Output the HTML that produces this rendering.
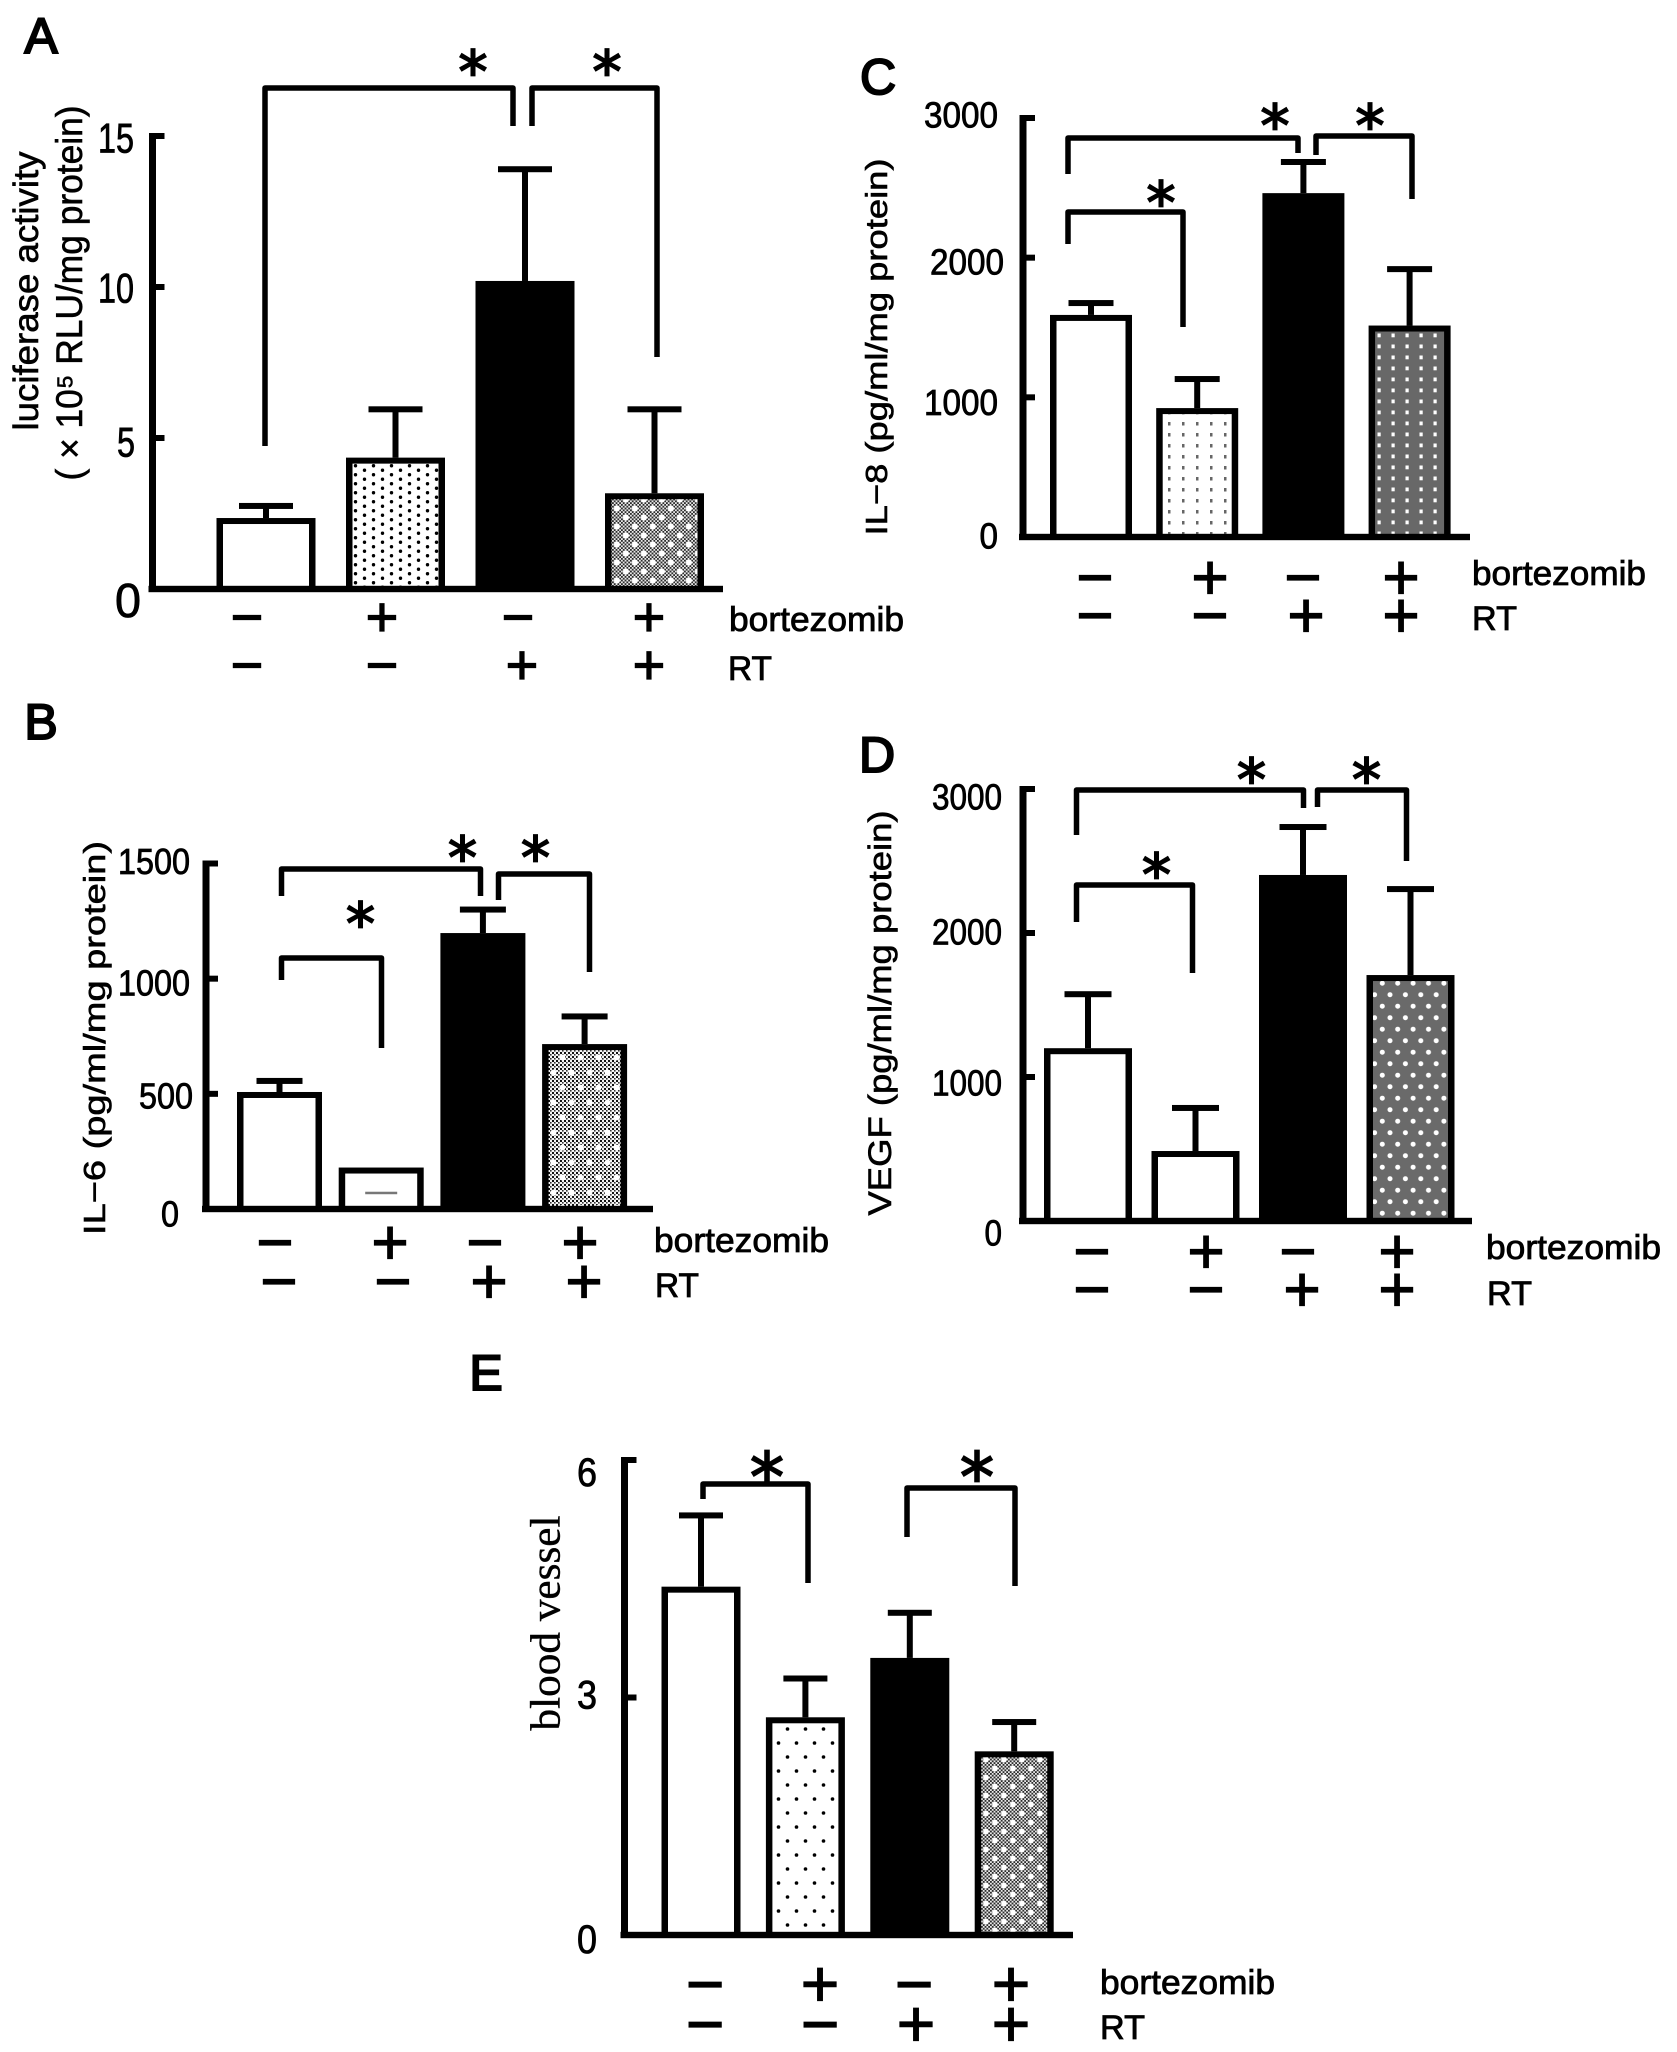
<!DOCTYPE html>
<html lang="en">
<head>
<meta charset="utf-8">
<title>Bortezomib and RT bar charts</title>
<style>
html,body{margin:0;padding:0;background:#fff;}
svg{display:block;}
text{font-family:"Liberation Sans",sans-serif;fill:#000;}
.letter{font-size:50px;stroke:#000;stroke-width:2px;text-anchor:middle;}
.title{font-size:31px;stroke:#000;stroke-width:.6px;text-anchor:middle;}
.rowlabel{font-size:34px;stroke:#000;stroke-width:.8px;}
.star{font-family:"DejaVu Sans",sans-serif;font-size:58px;stroke:#000;stroke-width:1.8px;text-anchor:middle;}
.bracket{fill:none;stroke:#000;stroke-width:5.5;stroke-linejoin:round;}
</style>
</head>
<body>
<svg id="figure" xmlns="http://www.w3.org/2000/svg" width="1677" height="2052" viewBox="0 0 1677 2052">
<defs>
<pattern id="dotsA" width="18" height="9" patternUnits="userSpaceOnUse"><circle cx="4.5" cy="2.25" r="1.7" fill="#000"/><circle cx="13.5" cy="6.75" r="1.7" fill="#000"/></pattern>
<pattern id="dotsC" width="14" height="11" patternUnits="userSpaceOnUse"><rect x="6" y="4" width="2.5" height="3.5" fill="#666"/></pattern>
<pattern id="dotsE" width="18" height="28" patternUnits="userSpaceOnUse"><circle cx="4.5" cy="7" r="1.8" fill="#000"/><circle cx="13.5" cy="21" r="1.8" fill="#000"/></pattern>
<pattern id="chk" width="3.6" height="3.6" patternUnits="userSpaceOnUse"><rect width="3.6" height="3.6" fill="#2c2c2c"/><rect width="1.8" height="1.8" fill="#e8e8e8"/><rect x="1.8" y="1.8" width="1.8" height="1.8" fill="#e8e8e8"/></pattern>
<pattern id="chkLight" width="4" height="4" patternUnits="userSpaceOnUse"><rect width="4" height="4" fill="#f4f4f4"/><rect width="2" height="2" fill="#111"/><rect x="2" y="2" width="1.6" height="1.6" fill="#333"/></pattern>
<pattern id="spotsA" width="18" height="18" patternUnits="userSpaceOnUse"><circle cx="5" cy="4.5" r="3" fill="#fff"/><circle cx="14" cy="13.5" r="3" fill="#fff"/></pattern>
<pattern id="spotsB" width="18" height="30" patternUnits="userSpaceOnUse"><circle cx="4.5" cy="7.5" r="3" fill="#fff"/><circle cx="13.5" cy="22.5" r="3" fill="#fff"/></pattern>
<pattern id="spotsC" width="14" height="11" patternUnits="userSpaceOnUse"><rect x="5.5" y="3.5" width="3.2" height="3.8" fill="#fff"/></pattern>
<pattern id="spotsD" width="15.4" height="23" patternUnits="userSpaceOnUse"><circle cx="4" cy="5.7" r="2.5" fill="#fff"/><circle cx="11.7" cy="17.2" r="2.5" fill="#fff"/></pattern>
<pattern id="spotsE" width="18" height="18" patternUnits="userSpaceOnUse"><circle cx="5" cy="4.5" r="2.8" fill="#fff"/><circle cx="14" cy="13.5" r="2.8" fill="#fff"/></pattern>
</defs>

<!-- Panel letters -->
<text class="letter" x="41" y="53">A</text>
<text class="letter" x="41" y="739">B</text>
<text class="letter" x="878" y="94">C</text>
<text class="letter" x="877" y="772">D</text>
<text class="letter" x="486" y="1390">E</text>

<!-- Axis titles -->
<text class="title" style="font-size:35px" transform="translate(38 291) rotate(-90)" textLength="279" lengthAdjust="spacingAndGlyphs">luciferase activity</text>
<text class="title" style="font-size:37px" transform="translate(82 293) rotate(-90)" textLength="375" lengthAdjust="spacingAndGlyphs">( × 10⁵ RLU/mg protein)</text>
<text class="title" transform="translate(94 1038) rotate(-90)" dy=".35em" textLength="394" lengthAdjust="spacingAndGlyphs">IL−6  (pg/ml/mg protein)</text>
<text class="title" transform="translate(876 347) rotate(-90)" dy=".35em" textLength="377" lengthAdjust="spacingAndGlyphs">IL−8 (pg/ml/mg protein)</text>
<text class="title" style="font-size:32px" transform="translate(880 1013) rotate(-90)" dy=".35em" textLength="405" lengthAdjust="spacingAndGlyphs">VEGF (pg/ml/mg protein)</text>
<text class="title" style="font-family:'Liberation Serif',serif;font-size:42px;stroke-width:.4px" transform="translate(545 1623) rotate(-90)" dy=".35em" textLength="215" lengthAdjust="spacingAndGlyphs">blood vessel</text>

<!-- Significance brackets -->
<g transform="translate(-3 0)">
<polyline class="bracket" points="268,446 268,88 516,88 516,126"/>
<polyline class="bracket" points="535,126 535,88 660,88 660,357"/>
<text class="star" x="476" y="92">*</text>
<text class="star" x="610" y="92">*</text>
</g>
<g transform="translate(-1.5 0)">
<polyline class="bracket" points="283,896 283,869 482,869 482,896"/>
<polyline class="bracket" points="500,900 500,874 591,874 591,972"/>
<polyline class="bracket" points="283,980 283,958 383,958 383,1048"/>
<text class="star" x="464" y="878">*</text>
<text class="star" x="537" y="878">*</text>
<text class="star" x="362" y="944">*</text>
</g>
<g transform="translate(-2 0)">
<polyline class="bracket" points="1070,174 1070,138 1300,138 1300,153"/>
<polyline class="bracket" points="1318,155 1318,136 1414,136 1414,199"/>
<polyline class="bracket" points="1070,244 1070,212 1185,212 1185,327"/>
<text class="star" x="1277" y="146">*</text>
<text class="star" x="1372" y="146">*</text>
<text class="star" x="1163" y="223">*</text>
</g>
<g transform="translate(-1.5 0)">
<polyline class="bracket" points="1078,835 1078,790 1305,790 1305,808"/>
<polyline class="bracket" points="1319,807 1319,790 1408,790 1408,861"/>
<polyline class="bracket" points="1078,922 1078,885 1194,885 1194,973"/>
<text class="star" x="1253" y="800">*</text>
<text class="star" x="1368" y="800">*</text>
<text class="star" x="1158" y="895">*</text>
</g>
<g transform="translate(-1 0)">
<polyline class="bracket" points="704,1499 704,1484 809,1484 809,1583"/>
<polyline class="bracket" points="908,1537 908,1488 1016,1488 1016,1586"/>
<text class="star" style="font-size:68px" x="768" y="1501">*</text>
<text class="star" style="font-size:68px" x="978" y="1501">*</text>
</g>

<!-- Treatment row labels -->
<text class="rowlabel" x="729" y="631" textLength="175" lengthAdjust="spacingAndGlyphs">bortezomib</text>
<text class="rowlabel" x="728" y="680" textLength="44" lengthAdjust="spacingAndGlyphs">RT</text>
<text class="rowlabel" x="654" y="1252" textLength="175" lengthAdjust="spacingAndGlyphs">bortezomib</text>
<text class="rowlabel" x="655" y="1297" textLength="44" lengthAdjust="spacingAndGlyphs">RT</text>
<text class="rowlabel" x="1472" y="585" textLength="174" lengthAdjust="spacingAndGlyphs">bortezomib</text>
<text class="rowlabel" x="1472" y="630" textLength="45" lengthAdjust="spacingAndGlyphs">RT</text>
<text class="rowlabel" x="1486" y="1259" textLength="175" lengthAdjust="spacingAndGlyphs">bortezomib</text>
<text class="rowlabel" x="1487" y="1305" textLength="45" lengthAdjust="spacingAndGlyphs">RT</text>
<text class="rowlabel" x="1100" y="1994" textLength="175" lengthAdjust="spacingAndGlyphs">bortezomib</text>
<text class="rowlabel" x="1100" y="2039" textLength="45" lengthAdjust="spacingAndGlyphs">RT</text>
</svg>

<script>
// Shared categories
const groups = ['control', 'bortezomib', 'rt', 'combination'];
const bortezomibSigns = ['−', '+', '−', '+'];
const rtSigns = ['−', '−', '+', '+'];

// Panel A: luciferase activity
const aValues = [2.35, 4.35, 10.2, 3.17];
const aErrorTops = [2.75, 5.95, 13.9, 5.95];
const aTicks = [0, 5, 10, 15];

// Panel B: IL-6
const bValues = [508, 180, 1198, 716];
const bErrorTops = [556, 180, 1300, 836];
const bTicks = [0, 500, 1000, 1500];

// Panel C: IL-8
const cValues = [1590, 923, 2462, 1514];
const cErrorTops = [1675, 1131, 2685, 1918];
const cTicks = [0, 1000, 2000, 3000];

// Panel D: VEGF
const dValues = [1200, 486, 2403, 1708];
const dErrorTops = [1575, 785, 2736, 2305];
const dTicks = [0, 1000, 2000, 3000];

// Panel E: blood vessel
const eValues = [4.4, 2.75, 3.5, 2.32];
const eErrorTops = [5.3, 3.24, 4.07, 2.69];
const eTicks = [0, 3, 6];

const NS = 'http://www.w3.org/2000/svg';
const root = document.getElementById('figure');

function make(tag, parent) {
  const el = document.createElementNS(NS, tag);
  parent.appendChild(el);
  return el;
}
function box(el, x, y, w, h, fill) {
  el.setAttribute('x', x);
  el.setAttribute('y', y);
  el.setAttribute('width', w);
  el.setAttribute('height', h);
  el.setAttribute('fill', fill);
}

function drawPanel(values, errorTops, ticks, p) {
  const yScale = v => p.base - (v - ticks[0]) / (ticks[ticks.length - 1] - ticks[0]) * (p.base - p.top);
  const xScale = i => p.x0 + i * p.step;

  const g = make('g', root);
  
  

  values.forEach((v, i) => {
    const cx = xScale(i);
    const y = yScale(v);
    const eTop = yScale(errorTops[i]);
    if (errorTops[i] > v) {
      const stem = make('rect', g);
      
      
      box(stem, cx - 3, eTop, 6, y - eTop, '#000');
      const cap = make('rect', g);
      
      
      box(cap, cx - p.capW / 2, eTop - 3, p.capW, 6, '#000');
    }
    const outer = make('rect', g);
    
    
    outer.setAttribute('data-group', groups[i]);
    box(outer, cx - p.barW / 2, y, p.barW, p.base - y, '#000');
    if (i !== 2) {
      const inner = make('rect', g);
      
      
      const ih = Math.max(0, p.base - y - 6);
      box(inner, cx - p.barW / 2 + 6.5, y + 6, p.barW - 13, ih, p.fills[i]);
      if (p.overlays[i]) {
        const over = make('rect', g);
        
        
        box(over, cx - p.barW / 2 + 6.5, y + 6, p.barW - 13, ih, p.overlays[i]);
      }
    }
  });

  // axes
  const yAxis = make('rect', g);
  
  
  box(yAxis, p.axisX - 3.5, p.top - 3, 7, p.base - p.top + 6, '#000');
  const xAxis = make('rect', g);
  
  
  box(xAxis, p.axisX - 4, p.base - 3.2, p.axisRight - p.axisX + 4, 6.4, '#000');

  ticks.forEach((t, i) => {
    const y = yScale(t);
    const mark = make('rect', g);
    
    
    box(mark, p.axisX, y - 3, 12, 6, '#000');
    const label = make('text', g);
    
    
    const s = String(t);
    const isBigZero = t === 0 && p.zeroSize;
    const size = isBigZero ? p.zeroSize : p.digitSize;
    const width = isBigZero ? p.zeroW : s.length * p.digitW;
    label.textContent = s;
    label.setAttribute('x', p.labelRight + p.labelDx[i]);
    label.setAttribute('y', y + p.labelNudge[i] + size * 0.35);
    label.setAttribute('text-anchor', 'end');
    label.setAttribute('font-size', size);
    label.setAttribute('stroke', '#000');
    label.setAttribute('stroke-width', '0.8');
    label.setAttribute('textLength', width);
    label.setAttribute('lengthAdjust', 'spacingAndGlyphs');
  });

  [[bortezomibSigns, p.row1Y, p.row1X], [rtSigns, p.row2Y, p.row2X]].forEach(row => {
    row[0].forEach((sign, i) => {
      const t = make('text', g);
      
      
      t.textContent = sign;
      t.setAttribute('x', row[2][i]);
      t.setAttribute('y', row[1] + p.signSize * 0.34);
      t.setAttribute('text-anchor', 'middle');
      t.setAttribute('font-size', p.signSize);
      t.setAttribute('stroke', '#000');
      t.setAttribute('stroke-width', '1.2');
    });
  });

  return { xScale, yScale, g };
}

drawPanel(aValues, aErrorTops, aTicks, {
  base: 589, top: 136, axisX: 152.5, axisRight: 723, x0: 266, step: 129.5, barW: 99, capW: 54,
  fills: ['#fff', '#fff', '#000', 'url(#chk)'],
  overlays: [null, 'url(#dotsA)', null, 'url(#spotsA)'],
  labelRight: 134, labelDx: [7, 1, 0, 0], labelNudge: [11, 4, 1, 2], digitSize: 42, digitW: 18, zeroSize: 48, zeroW: 26,
  signSize: 56, row1Y: 617, row1X: [247, 382, 518, 649], row2Y: 665, row2X: [247, 382, 522, 649]
});

const panelB = drawPanel(bValues, bErrorTops, bTicks, {
  base: 1209, top: 863.5, axisX: 206, axisRight: 653, x0: 279.5, step: 101.7, barW: 85, capW: 46,
  fills: ['#fff', '#fff', '#000', 'url(#chkLight)'],
  overlays: [null, null, null, 'url(#spotsB)'],
  labelRight: 190, labelDx: [-11, 3, 0, 0], labelNudge: [5, 2, 4, -2], digitSize: 36, digitW: 18,
  signSize: 64, row1Y: 1242, row1X: [275, 390, 485, 580], row2Y: 1281, row2X: [279, 393, 489, 584]
});
const dash = make('rect', panelB.g);


box(dash, panelB.xScale(1) - 16, panelB.yScale(75), 32, 2.5, '#777');

drawPanel(cValues, cErrorTops, cTicks, {
  base: 537, top: 118, axisX: 1023, axisRight: 1470, x0: 1091, step: 106.2, barW: 82, capW: 45,
  fills: ['#fff', '#fff', '#000', '#686868'],
  overlays: [null, 'url(#dotsC)', null, 'url(#spotsC)'],
  labelRight: 998, labelDx: [0, 0, 6, 0], labelNudge: [-1, 5, 4, -3], digitSize: 36, digitW: 18.5,
  signSize: 64, row1Y: 577, row1X: [1095, 1210, 1303, 1401], row2Y: 615, row2X: [1095, 1210, 1306, 1401]
});

drawPanel(dValues, dErrorTops, dTicks, {
  base: 1221, top: 789, axisX: 1023, axisRight: 1472, x0: 1088, step: 107.5, barW: 88, capW: 47,
  fills: ['#fff', '#fff', '#000', '#6a6a6a'],
  overlays: [null, null, null, 'url(#spotsD)'],
  labelRight: 1002, labelDx: [0, 0, 0, 0], labelNudge: [12, 6, -1, 8], digitSize: 36, digitW: 17.5,
  signSize: 64, row1Y: 1251, row1X: [1092, 1206, 1298, 1397], row2Y: 1289, row2X: [1092, 1206, 1302, 1397]
});

drawPanel(eValues, eErrorTops, eTicks, {
  base: 1935, top: 1460, axisX: 624.5, axisRight: 1073, x0: 701, step: 104.4, barW: 79, capW: 44,
  fills: ['#fff', '#fff', '#000', 'url(#chk)'],
  overlays: [null, 'url(#dotsE)', null, 'url(#spotsE)'],
  labelRight: 597, labelDx: [0, 0, 0], labelNudge: [4, -3, 12], digitSize: 40, digitW: 20,
  signSize: 66, row1Y: 1984, row1X: [705, 820, 914, 1011], row2Y: 2024, row2X: [705, 820, 916, 1011]
});
</script>
</body>
</html>
